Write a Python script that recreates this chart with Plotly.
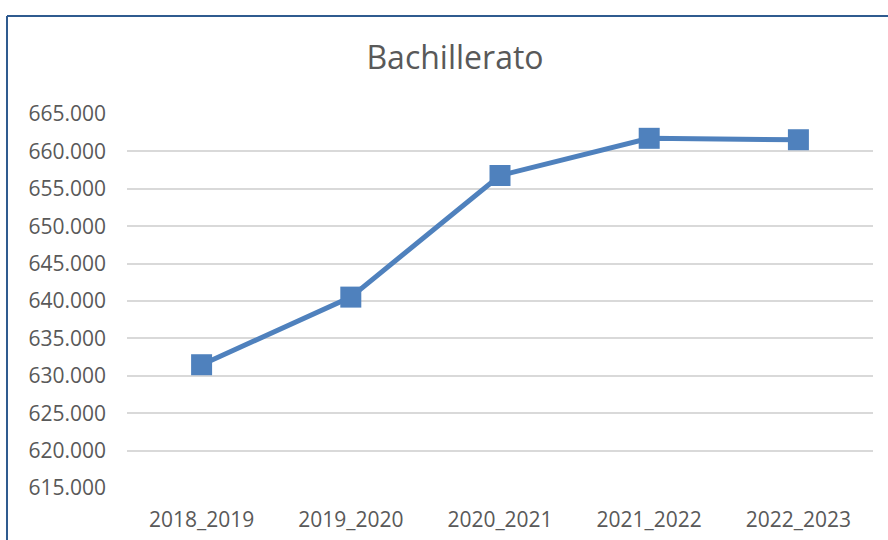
import plotly.graph_objects as go

categories = ["2018_2019", "2019_2020", "2020_2021", "2021_2022", "2022_2023"]
values = [631480, 640520, 656780, 661750, 661560]
y_ticks = [615000, 620000, 625000, 630000, 635000, 640000, 645000, 650000, 655000, 660000, 665000]

blue = "#4f81bd"
text_col = "#595959"
font_family = "Open Sans, Liberation Sans, sans-serif"

fig = go.Figure()
fig.add_trace(go.Scatter(
    x=categories, y=values, mode="lines+markers",
    line=dict(color=blue, width=5),
    marker=dict(symbol="square", size=21, color=blue, line=dict(width=0)),
    showlegend=False, hoverinfo="x+y",
))

fig.update_layout(
    width=888, height=540,
    margin=dict(l=127, r=15, t=114, b=52, autoexpand=False),
    paper_bgcolor="white", plot_bgcolor="white",
    separators=",.",
    title=dict(text="Bachillerato", x=0.5124, xanchor="center", y=0.8926, yanchor="middle",
               font=dict(family=font_family, size=32, color=text_col)),
    font=dict(family=font_family, color=text_col),
    xaxis=dict(range=[-0.5, 4.5], showgrid=False, zeroline=False, showline=False,
               ticks="", tickfont=dict(size=21, color=text_col), ticklabelstandoff=17,
               automargin=False, fixedrange=True),
    yaxis=dict(range=[615000, 665000], tickvals=y_ticks, tickformat=",d",
               showgrid=True, gridcolor="#d9d9d9", gridwidth=1.5, zeroline=False,
               showline=False, ticks="", tickfont=dict(size=21, color=text_col),
               ticklabelstandoff=20, automargin=False, fixedrange=True),
    shapes=[
        dict(type="line", xref="paper", yref="paper", x0=-0.16086, x1=1.2, y0=1.26203, y1=1.26203,
             line=dict(color="#2f5b8f", width=2)),
        dict(type="line", xref="paper", yref="paper", x0=-0.16086, x1=-0.16086, y0=1.26203, y1=-0.3,
             line=dict(color="#2f5b8f", width=2)),
    ],
)

fig.write_html("out.html", config={"displayModeBar": False},
               post_script="document.body.style.margin='0px';document.body.style.overflow='hidden';")
